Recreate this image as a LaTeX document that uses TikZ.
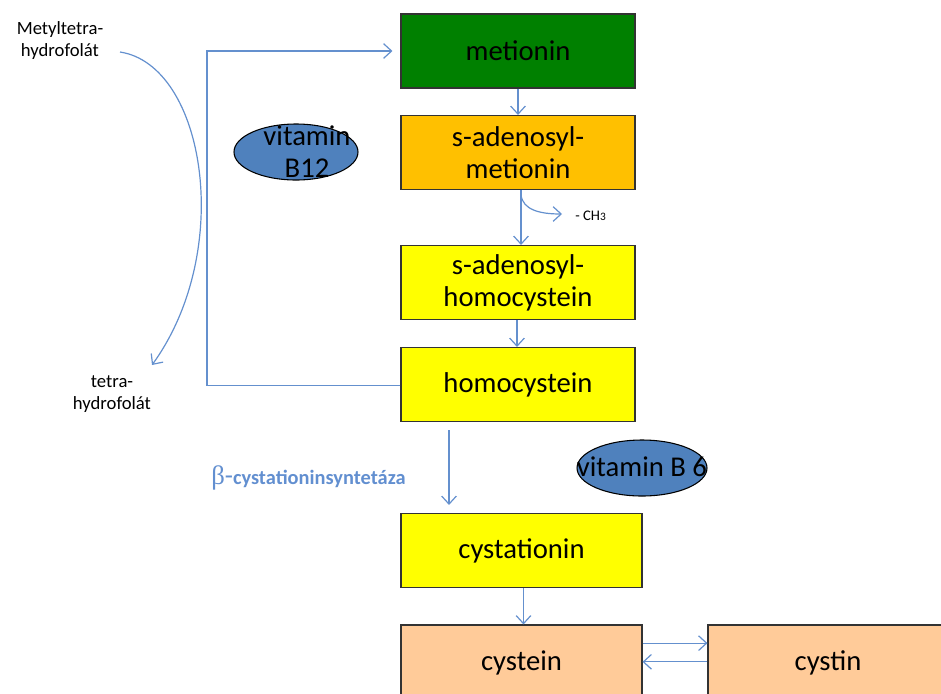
\documentclass[tikz,border=0pt]{standalone}
\usepackage{fontspec}
\setmainfont{Carlito}
\newfontfamily\greekfont{Liberation Serif}
\usetikzlibrary{arrows.meta}
\definecolor{metgreen}{RGB}{0,128,0}
\definecolor{samorange}{RGB}{255,192,0}
\definecolor{pathyellow}{RGB}{255,255,0}
\definecolor{cyspeach}{RGB}{255,203,153}
\definecolor{vitblue}{RGB}{79,129,189}
\definecolor{flowblue}{RGB}{100,144,206}
\definecolor{enzblue}{RGB}{98,143,208}
\begin{document}
\begin{tikzpicture}[x=0.75pt,y=-0.75pt,
  box/.style={draw=black!80, line width=0.8pt, align=center, inner sep=0pt,
    minimum width={234*0.75pt}, minimum height={74*0.75pt},
    font=\fontsize{21.5}{24}\selectfont},
  vitamin/.style={draw=black, line width=0.8pt, fill=vitblue},
  vitlabel/.style={align=center, font=\fontsize{21.5}{24.5}\selectfont},
  note/.style={align=center, font=\fontsize{14}{16.5}\selectfont},
  flow/.style={draw=flowblue, line width=0.9pt,
    -{Straight Barb[length=6pt,width=11pt,line width=0.9pt]}},
  plain/.style={draw=flowblue, line width=0.9pt}]
\useasboundingbox (0,0) rectangle (941,693);
\clip (0,0) rectangle (941,693);

% main chain of compounds
\node[box, fill=metgreen]   (met)   at (518,51)    {metionin};
\node[box, fill=samorange]  (sam)   at (518,152.5) {s-adenosyl-\\metionin};
\node[box, fill=pathyellow] (sah)   at (518,282.5) {s-adenosyl-\\homocystein};
\node[box, fill=pathyellow] (hcy)   at (518,384.5) {homocystein};
\node[box, fill=pathyellow, minimum width={241*0.75pt}] (cysta) at (521.5,550.5) {cystationin};
\node[box, fill=cyspeach, minimum width={241*0.75pt}, minimum height={75*0.75pt}]
  (cys) at (521.5,662.5) {\raisebox{1pt}{cystein}};
\node[box, fill=cyspeach, minimum width={240*0.75pt}, minimum height={75*0.75pt}]
  (cystin) at (828,662.5) {\raisebox{1pt}{cystin}};

% cofactors
\draw[vitamin] (296,152) ellipse [x radius={62*0.75pt}, y radius={28*0.75pt}];
\node[vitlabel] (b12) at (307,151.5) {vitamin\\B12};
\draw[vitamin] (642,468) ellipse [x radius={65*0.75pt}, y radius={28*0.75pt}];
\node[vitlabel] (b6) at (642,467) {vitamin B 6};

% folate labels
\node[note] (mthf) at (60,41)  {Metyltetra-\\hydrofolát};
\node[note] (thf)  at (112,394) {tetra-\\hydrofolát};

% enzyme label
\node[anchor=base west, text=enzblue, inner sep=0pt] (enz) at (211,484)
  {{\greekfont\fontsize{20}{20}\selectfont β}{\fontsize{20}{20}\selectfont -}{\bfseries\fontsize{15.3}{15.3}\selectfont cystationinsyntetáza}};

% methyl group leaving
\node[anchor=west, inner sep=0pt, font=\fontsize{11}{11}\selectfont] (ch3) at (575,216)
  {- CH{\fontsize{8.5}{8.5}\selectfont 3}};

% connectors along the chain
\draw[flow] (met.south) -- (sam.north);
\draw[flow] ([xshift=2.25pt]sam.south) -- ([xshift=2.25pt]sah.north);
\coordinate (branch) at (521,195);
\coordinate (methylend) at (562,214);
\draw[flow] (branch) .. controls (523,210) and (540,214) .. (methylend);
\draw[flow] ([xshift=-0.75pt]sah.south) -- ([xshift=-0.75pt]hcy.south |- hcy.north);
\coordinate (enzx) at (449,0);
\draw[flow, shorten <=6pt, shorten >=6pt] (hcy.south -| enzx) -- (cysta.north -| enzx);
\draw[flow] ([xshift=1.5pt]cysta.south) -- ([xshift=1.5pt]cys.north);

% remethylation loop back to metionin
\coordinate (loopx) at (207,0);
\draw[flow, shorten >=6pt] ([yshift=-1pt]hcy.west) -| (loopx |- met.west) -- (met.west);

% folate methyl donor
\coordinate (fstart) at (120,52);
\coordinate (fend) at (152,365);
\draw[flow] (fstart) .. controls (205,65) and (235,250) .. (fend);

% cystein <-> cystin
\draw[flow] ([yshift=-14pt]cys.east |- cys.north) -- ([yshift=-14pt]cystin.west |- cystin.north);
\draw[flow] ([yshift=-28pt]cystin.west |- cystin.north) -- ([yshift=-28pt]cys.east |- cys.north);
\end{tikzpicture}
\end{document}
